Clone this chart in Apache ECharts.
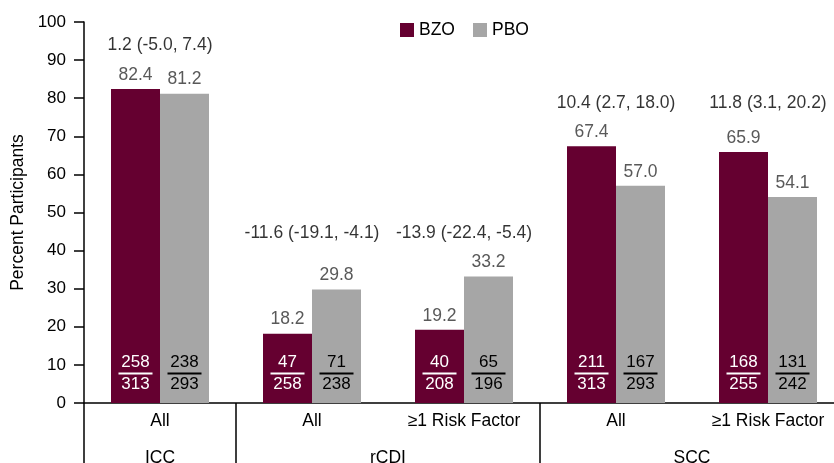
<!DOCTYPE html>
<html>
<head>
<meta charset="utf-8">
<script src="https://cdn.jsdelivr.net/npm/echarts@6/dist/echarts.min.js"></script>
<style>
  html, body { margin: 0; padding: 0; background: #fff; }
  #chart { width: 834px; height: 463px; }
</style>
</head>
<body>
<div id="chart"></div>
<script>
// Subgroup categories along the x axis and the cohort groups beneath them
const subgroups = ['All', 'All', '≥1 Risk Factor', 'All', '≥1 Risk Factor'];
const groupNames = ['ICC', 'rCDI', 'SCC'];
const groupSpans = [1, 2, 2];

// Percent of participants per arm
const bzoPct = [82.4, 18.2, 19.2, 67.4, 65.9];
const pboPct = [81.2, 29.8, 33.2, 57.0, 54.1];

// Counts (n / N) per arm
const bzoNum = [258, 47, 40, 211, 168];
const bzoDen = [313, 258, 208, 313, 255];
const pboNum = [238, 71, 65, 167, 131];
const pboDen = [293, 238, 196, 293, 242];

// Difference (95% CI) per subgroup
const diffLabels = ['1.2 (-5.0, 7.4)', '-11.6 (-19.1, -4.1)', '-13.9 (-22.4, -5.4)', '10.4 (2.7, 18.0)', '11.8 (3.1, 20.2)'];

const FONT = 'Liberation Sans, Arial, sans-serif';
const FS = 17;
const FS_L = 17.5;
const BZO_COLOR = '#650030';
const PBO_COLOR = '#a6a6a6';

// group boundaries and label centres on a 0..N scale
const boundaries = [0];
groupSpans.forEach(s => boundaries.push(boundaries[boundaries.length - 1] + s));
const groupCenters = groupSpans.map((s, i) => boundaries[i] + s / 2);

// difference labels sit above the tallest bar within each group
const groupOf = [];
groupSpans.forEach((s, gi) => { for (let k = 0; k < s; k++) groupOf.push(gi); });
const groupMax = groupNames.map((_, gi) => {
  let m = 0;
  groupOf.forEach((g, i) => { if (g === gi) m = Math.max(m, bzoPct[i], pboPct[i]); });
  return m;
});
const diffAnchor = groupOf.map(g => groupMax[g]);

function fractionRich(color) {
  return {
    n: { fontSize: FS, lineHeight: 17, color: color, fontFamily: FONT, align: 'center' },
    l: { width: 34, height: 2, lineHeight: 5, backgroundColor: color, fontSize: 1 },
    d: { fontSize: FS, lineHeight: 17, color: color, fontFamily: FONT, align: 'center' }
  };
}

const chart = echarts.init(document.getElementById('chart'));
chart.setOption({
  animation: false,
  textStyle: { fontFamily: FONT },
  legend: {
    data: ['BZO', 'PBO'],
    left: 400,
    top: 21,
    padding: 0,
    icon: 'rect',
    itemWidth: 14,
    itemHeight: 14,
    itemGap: 18,
    textStyle: { fontSize: FS_L, color: '#000', fontFamily: FONT }
  },
  grid: { left: 84, top: 22, width: 760, bottom: 60, containLabel: false, outerBoundsMode: 'none' },
  xAxis: [
    {
      type: 'category',
      data: subgroups,
      axisLine: { lineStyle: { color: '#000', width: 1.5 } },
      axisTick: { show: false },
      axisLabel: { interval: 0, fontSize: FS_L, color: '#000', margin: 9, fontFamily: FONT }
    },
    {
      type: 'value',
      position: 'bottom',
      min: 0,
      max: boundaries[boundaries.length - 1],
      axisLine: { show: false },
      splitLine: { show: false },
      axisTick: {
        show: true,
        customValues: boundaries,
        length: 60,
        lineStyle: { color: '#000', width: 1.5 }
      },
      axisLabel: {
        customValues: groupCenters,
        margin: 46,
        fontSize: FS_L,
        color: '#000',
        fontFamily: FONT,
        formatter: v => {
          const i = groupCenters.findIndex(c => Math.abs(c - v) < 1e-6);
          return i >= 0 ? groupNames[i] : '';
        }
      }
    }
  ],
  yAxis: {
    type: 'value',
    min: 0,
    max: 100,
    interval: 10,
    name: 'Percent Participants',
    nameLocation: 'middle',
    nameGap: 54,
    nameTextStyle: { fontSize: FS_L, color: '#000', fontFamily: FONT },
    axisLine: { show: true, lineStyle: { color: '#000', width: 1.5 } },
    axisTick: { show: true, length: 10, lineStyle: { color: '#000', width: 1.5 } },
    axisLabel: { fontSize: FS, color: '#000', margin: 18, fontFamily: FONT },
    splitLine: { show: false }
  },
  series: [
    {
      name: 'BZO',
      type: 'bar',
      stack: 'bzo',
      data: bzoPct,
      barWidth: 49,
      barGap: '0%',
      itemStyle: { color: BZO_COLOR },
      label: {
        show: true,
        position: 'insideBottom',
        distance: 10,
        formatter: p => `{n|${bzoNum[p.dataIndex]}}\n{l| }\n{d|${bzoDen[p.dataIndex]}}`,
        rich: fractionRich('#fff')
      }
    },
    {
      name: 'PBO',
      type: 'bar',
      stack: 'pbo',
      data: pboPct,
      barWidth: 49,
      itemStyle: { color: PBO_COLOR },
      label: {
        show: true,
        position: 'insideBottom',
        distance: 10,
        formatter: p => `{n|${pboNum[p.dataIndex]}}\n{l| }\n{d|${pboDen[p.dataIndex]}}`,
        rich: fractionRich('#000')
      }
    },
    // zero-height caps carrying the percentage labels above each bar
    {
      name: 'BZO value',
      type: 'bar',
      stack: 'bzo',
      data: bzoPct.map(() => 0),
      barWidth: 49,
      itemStyle: { color: 'transparent' },
      label: {
        show: true,
        position: 'top',
        distance: 5,
        fontSize: FS_L,
        color: '#595959',
        fontFamily: FONT,
        formatter: p => bzoPct[p.dataIndex].toFixed(1)
      }
    },
    {
      name: 'PBO value',
      type: 'bar',
      stack: 'pbo',
      data: pboPct.map(() => 0),
      barWidth: 49,
      itemStyle: { color: 'transparent' },
      label: {
        show: true,
        position: 'top',
        distance: 5,
        fontSize: FS_L,
        color: '#595959',
        fontFamily: FONT,
        formatter: p => pboPct[p.dataIndex].toFixed(1)
      }
    },
    {
      name: 'Difference',
      type: 'scatter',
      data: diffAnchor,
      symbolSize: 1,
      itemStyle: { color: 'transparent' },
      silent: true,
      label: {
        show: true,
        position: 'top',
        distance: 34,
        fontSize: FS_L,
        color: '#000',
        fontFamily: FONT,
        formatter: p => diffLabels[p.dataIndex]
      }
    }
  ]
});
</script>
</body>
</html>
